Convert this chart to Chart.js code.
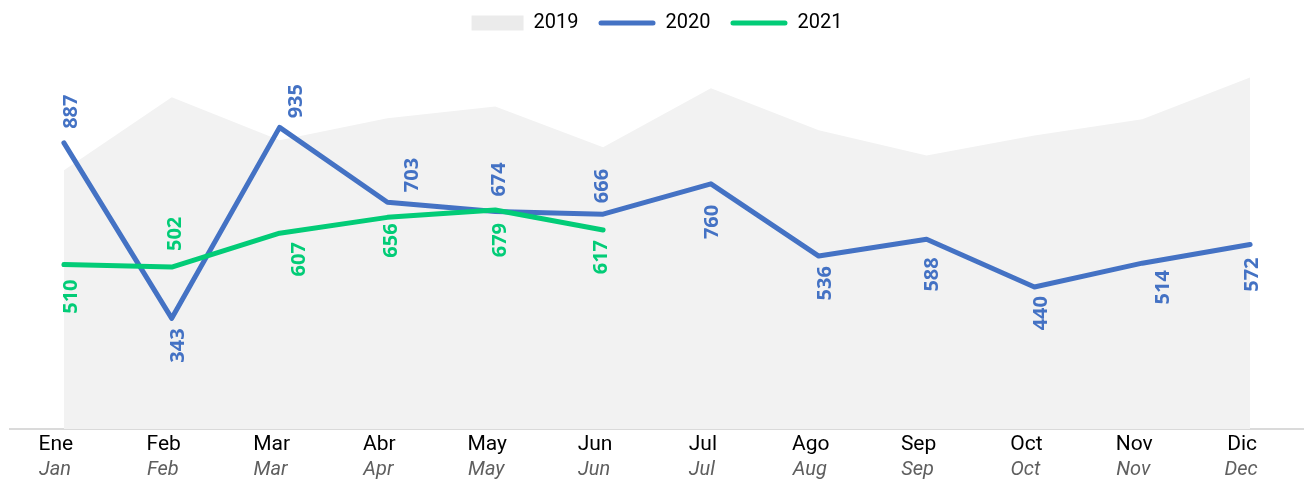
<!DOCTYPE html>
<html>
<head>
<meta charset="utf-8">
<script src="https://cdn.jsdelivr.net/npm/chart.js@4.4.1/dist/chart.umd.min.js"></script>
<style>
html,body{margin:0;padding:0;background:#fff;}
#wrap{width:1304px;height:480px;position:relative;}
</style>
</head>
<body>
<div id="wrap"><canvas id="c"></canvas></div>
<script>
const monthsEs = ['Ene','Feb','Mar','Abr','May','Jun','Jul','Ago','Sep','Oct','Nov','Dic'];
const monthsEn = ['Jan','Feb','Mar','Apr','May','Jun','Jul','Aug','Sep','Oct','Nov','Dec'];
const values2019 = [802,1028,895,963,1000,873,1056,926,848,910,960,1090];
const values2020 = [887,343,935,703,674,666,760,536,588,440,514,572];
const values2021 = [510,502,607,656,679,617,null,null,null,null,null,null];
const seriesNames = ['2019','2020','2021'];

// value-label placement: 'a' above the point, 'b' below; small nudges in px
const place2020 = ['a','b','a','a','a','a','b','b','b','b','b','b'];
const nudge2020 = [7,7,17,25,4,-1,1,7,6,7,21,2];
const gap2020   = [14,10,9,10,15,11,21,10,18,9,7,13];
const place2021 = ['b','a','b','b','b','b'];
const nudge2021 = [7,4,20,4,5,-2];
const gap2021   = [15,16,9,6,13,10];

const BLUE = '#4472c4';
const GREEN = '#02cc77';
const AREA = '#f2f2f2';

const valueLabels = {
  id: 'valueLabels',
  afterDatasetsDraw(chart) {
    const ctx = chart.ctx;
    chart.data.datasets.forEach((ds, di) => {
      const cfg = ds.valueLabels;
      if (!cfg) return;
      const meta = chart.getDatasetMeta(di);
      meta.data.forEach((pt, i) => {
        const v = ds.data[i];
        if (v === null || v === undefined) return;
        const above = cfg.place[i] === 'a';
        ctx.save();
        ctx.translate(pt.x + cfg.nudge[i], pt.y + (above ? -cfg.gap[i] : cfg.gap[i]));
        ctx.rotate(-Math.PI / 2);
        ctx.font = 'bold 20px "Open Sans"';
        ctx.fillStyle = ds.borderColor;
        ctx.textBaseline = 'middle';
        ctx.textAlign = above ? 'left' : 'right';
        ctx.fillText(String(v), 0, 0);
        ctx.restore();
      });
    });
  }
};

const customLegend = {
  id: 'customLegend',
  afterDraw(chart) {
    const ctx = chart.ctx;
    const ca = chart.chartArea;
    ctx.save();
    ctx.font = '20px Roboto';
    ctx.textBaseline = 'middle';
    ctx.textAlign = 'left';
    const items = chart.data.datasets.map(ds => ({
      text: ds.label,
      color: ds.legendColor,
      line: ds.legendLine,
      w: ds.legendLine ? 57 : 52
    }));
    const gapSym = 10, gapItem = 20;
    let total = 0;
    items.forEach((it, i) => {
      it.tw = ctx.measureText(it.text).width;
      total += it.w + gapSym + it.tw + (i < items.length - 1 ? gapItem : 0);
    });
    let x = (ca.left + ca.right) / 2 - total / 2;
    const cy = 23;
    items.forEach(it => {
      if (it.line) {
        ctx.strokeStyle = it.color;
        ctx.lineWidth = 5;
        ctx.lineCap = 'round';
        ctx.beginPath();
        ctx.moveTo(x + 2.5, cy);
        ctx.lineTo(x + it.w - 2.5, cy);
        ctx.stroke();
      } else {
        ctx.fillStyle = it.color;
        ctx.fillRect(x, cy - 7.5, it.w, 15);
      }
      x += it.w + gapSym;
      ctx.fillStyle = '#000';
      ctx.fillText(it.text, x, cy);
      x += it.tw + gapItem;
    });
    ctx.restore();
  }
};

new Chart(document.getElementById('c'), {
  type: 'line',
  data: {
    labels: monthsEs,
    datasets: [
      {
        label: seriesNames[0],
        data: values2019,
        fill: 'origin',
        backgroundColor: AREA,
        borderColor: AREA,
        borderWidth: 0,
        pointRadius: 0,
        tension: 0,
        order: 3,
        legendColor: '#ebebeb',
        legendLine: false
      },
      {
        label: seriesNames[1],
        data: values2020,
        fill: false,
        borderColor: BLUE,
        backgroundColor: BLUE,
        borderWidth: 5,
        borderJoinStyle: 'round',
        borderCapStyle: 'round',
        pointRadius: 0,
        tension: 0,
        order: 2,
        legendColor: BLUE,
        legendLine: true,
        valueLabels: { place: place2020, nudge: nudge2020, gap: gap2020 }
      },
      {
        label: seriesNames[2],
        data: values2021,
        fill: false,
        borderColor: GREEN,
        backgroundColor: GREEN,
        borderWidth: 5,
        borderJoinStyle: 'round',
        borderCapStyle: 'round',
        pointRadius: 0,
        tension: 0,
        order: 1,
        spanGaps: false,
        legendColor: GREEN,
        legendLine: true,
        valueLabels: { place: place2021, nudge: nudge2021, gap: gap2021 }
      }
    ]
  },
  options: {
    responsive: true,
    maintainAspectRatio: false,
    animation: false,
    layout: { padding: { top: 58, left: 10, right: 0, bottom: 0 } },
    plugins: {
      legend: { display: false },
      tooltip: { enabled: false }
    },
    scales: {
      y: { display: false, min: 0, max: 1150 },
      x: {
        type: 'category',
        offset: true,
        grid: { display: false, drawTicks: false },
        border: { display: true, color: '#dadada', width: 2 },
        ticks: {
          color: '#000',
          padding: 5,
          labelOffset: -8,
          maxRotation: 0,
          autoSkip: false,
          font: { family: 'Roboto', size: 21, lineHeight: 1 }
        }
      },
      x2: {
        type: 'category',
        position: 'bottom',
        labels: monthsEn,
        offset: true,
        grid: { display: false, drawTicks: false },
        border: { display: false },
        ticks: {
          color: '#5f5f5f',
          padding: 0,
          labelOffset: -9,
          maxRotation: 0,
          autoSkip: false,
          font: { family: 'Roboto', size: 20, style: 'italic', lineHeight: 1 }
        }
      }
    }
  },
  plugins: [valueLabels, customLegend]
});
</script>
</body>
</html>
